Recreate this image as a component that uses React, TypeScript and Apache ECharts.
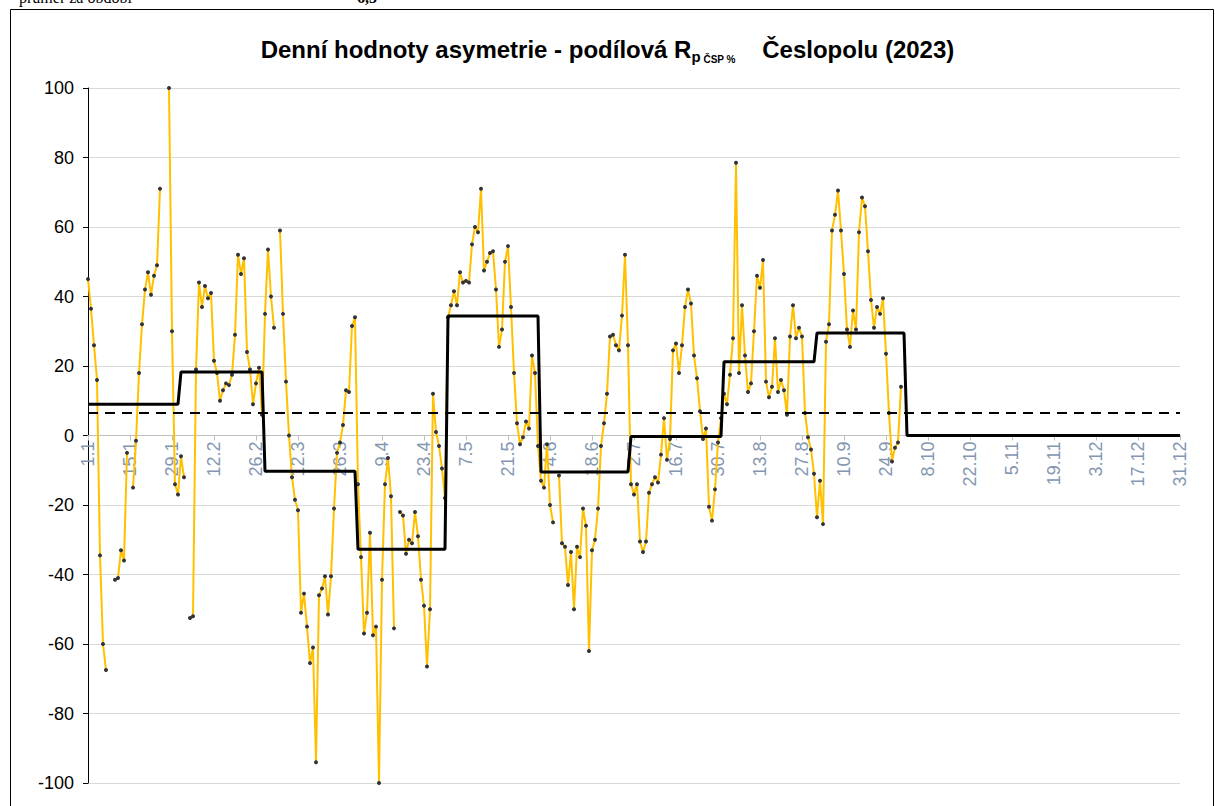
import React, { useEffect, useRef } from 'react';
import * as echarts from 'echarts';

const YEAR = 2023;
const daysInMonth = [31, 28, 31, 30, 31, 30, 31, 31, 30, 31, 30, 31];

// Daily values (null = missing day)
const jan = [45, 36.5, 26, 16, -34.5, -60, -67.5, null, null, -41.5, -41, -33, -36, -5, null, -15, -1.5, 18, 32, 42, 47, 40.5, 46, 49, 71, null, null, 100, 30, -14, -17];
const feb = [-6, -12, null, -52.5, -52, 19, 44, 37, 43, 39.5, 41, 21.5, 18, 10, 13, 15, 14.5, 17.5, 29, 52, 46.5, 51, 24, 19, 9, 15, 19.5, 6];
const mar = [35, 53.5, 40, 31, null, 59, 35, 15.5, 0, -12, -18.5, -21.5, -51, -45.5, -55, -65.5, -61, -94, -46, -44, -40.5, -51.5, -40.5, -21, -5, -2, 3, 13, 12.5, 31.5, 34];
const apr = [-14, -35, -57, -51, -28, -57.5, -55, -100, -41.5, -14, -6.5, -17.5, -55.5, null, -22, -23, -34, -30, -31, -22, -29, -41.5, -49, -66.5, -50, 12, 1, -3, -9.5, -18];
const may = [34, 37.5, 41.5, 37.5, 47, 44, 44.5, 44, 55, 60, 58.5, 71, 47.5, 50, 52.5, 53, 42, 25.5, 30.5, 50, 54.5, 37, 18, 3.5, -2.5, -0.5, 4, 2, 23, 18, -3];
const jun = [-13, -15, -2.5, -20, -25, null, -11.5, -31, -32, -43, -33.5, -50, -32, -35, -21, -26, -62, -33, -30, -21, -3, 3.5, 12, 28.5, 29, 26, 24.5, 34.5, 52, 26];
const jul = [-14, -17, -14, -30.5, -33.5, -30.5, -16.5, -14, -12, -13.5, -5.5, 5, -7, -1, 24.5, 26.5, 18, 26, 37, 42, 38, 23, 16.5, 7, -1, 2, -20.5, -24.5, -15.5, -2, 5];
const aug = [12, 9, 17.5, 28, 78.5, 18, 37.5, 23, 12.5, 15, 30, 46, 42.5, 50.5, 15.5, 11, 14, 28, 12.5, 16, 13, 6, 28.5, 37.5, 28, 31, 28.5, 6.5, -0.5, -4, -11];
const sep = [-23.5, -13, -25.5, 27, 32, 59, 63.5, 70.5, 59, 46.5, 30.5, 25.5, 36, 30.5, 58.5, 68.5, 66, 53, 39, 31, 37, 35, 39.5, 23.5, 6.5, -7.5, -3.5, -2, 14, null];
const oct: (number | null)[] = new Array(31).fill(null);
const nov: (number | null)[] = new Array(30).fill(null);
const dec: (number | null)[] = new Array(31).fill(null);

// Monthly averages (black step line) and period average (dashed line)
const monthlyMeans = [9, 18.3, -10.3, -32.7, 34.4, -10.5, -0.3, 21.2, 29.5, 0, 0, 0];
const periodMean = 6.5;
const periodMeanText = '6,5';

const Y_MIN = -100;
const Y_MAX = 100;
const Y_STEP = 20;
const LABEL_EVERY = 14;

const daily = [...jan, ...feb, ...mar, ...apr, ...may, ...jun, ...jul, ...aug, ...sep, ...oct, ...nov, ...dec];
const stepLine = monthlyMeans.flatMap((m, k) => new Array(daysInMonth[k]).fill(m));
const dayLabels = daily.map((_, i) => {
  const d = new Date(YEAR, 0, 1 + i);
  return `${d.getDate()}.${d.getMonth() + 1}`;
});

const FONT = "'Liberation Sans', Arial, sans-serif";
const GRID_TOP = 88;
const GRID_BOTTOM = 23;
const CHART_H = 806;
// distance from plot bottom to the zero line (x axis crosses the y axis at 0)
const plotH = CHART_H - GRID_TOP - GRID_BOTTOM;
const zeroOffset = plotH * (0 - Y_MIN) / (Y_MAX - Y_MIN);

export default function App() {
  const ref = useRef<HTMLDivElement>(null);
  useEffect(() => {
    const chart = echarts.init(ref.current!, undefined, { renderer: 'svg' });
    chart.setOption({
      animation: false,
      backgroundColor: '#fff',
      title: {
        left: 'center',
        top: 29,
        text: '{a|Denní hodnoty asymetrie - podílová R}{b|p}{c| ČSP %}{a|    Česlopolu (2023)}',
        textStyle: {
          rich: {
            a: { fontFamily: FONT, fontWeight: 'bold', fontSize: 24, color: '#000', lineHeight: 30, verticalAlign: 'middle' },
            b: { fontFamily: FONT, fontWeight: 'bold', fontSize: 15, color: '#000', lineHeight: 13, verticalAlign: 'bottom' },
            c: { fontFamily: FONT, fontWeight: 'bold', fontSize: 10, color: '#000', lineHeight: 10, verticalAlign: 'bottom' },
          },
        },
      },
      graphic: [
        { type: 'rect', shape: { x: 10.5, y: 9.5, width: 1203, height: 900 }, style: { fill: 'none', stroke: '#000', lineWidth: 1 }, silent: true },
        { type: 'text', x: 19, y: -3, style: { text: 'průměr za období', font: "16px 'Liberation Serif', 'Times New Roman', serif", fill: '#000', verticalAlign: 'middle' } },
        { type: 'text', x: 357, y: -3, style: { text: periodMeanText, font: "bold 16px 'Liberation Serif', 'Times New Roman', serif", fill: '#000', verticalAlign: 'middle' } },
      ],
      grid: { left: 88, right: 35, top: GRID_TOP, bottom: GRID_BOTTOM, containLabel: false, outerBoundsMode: 'none' },
      xAxis: {
        type: 'category',
        data: dayLabels,
        boundaryGap: false,
        position: 'bottom',
        offset: -zeroOffset,
        axisLine: { onZero: false, lineStyle: { color: '#bfbfbf', width: 1 } },
        axisTick: { show: true, interval: LABEL_EVERY - 1, length: 5, lineStyle: { color: '#bfbfbf' } },
        axisLabel: { interval: LABEL_EVERY - 1, rotate: 90, margin: 6, color: '#8496b0', fontSize: 18, fontFamily: FONT },
        splitLine: { show: false },
        z: 1,
      },
      yAxis: {
        type: 'value',
        min: Y_MIN,
        max: Y_MAX,
        interval: Y_STEP,
        axisLine: { show: true, lineStyle: { color: '#000', width: 1 } },
        axisTick: { show: true, inside: false, length: 5, lineStyle: { color: '#000' } },
        axisLabel: { color: '#000', fontSize: 18, fontFamily: FONT, margin: 14 },
        splitLine: { show: true, lineStyle: { color: '#d9d9d9', width: 1 } },
      },
      series: [
        {
          type: 'line',
          data: daily,
          connectNulls: false,
          symbol: 'circle',
          symbolSize: 4,
          showSymbol: true,
          showAllSymbol: true,
          lineStyle: { color: '#ffc000', width: 2 },
          itemStyle: { color: '#333333', borderWidth: 0 },
          z: 2,
        },
        {
          type: 'line',
          data: stepLine,
          showSymbol: false,
          symbol: 'none',
          lineStyle: { color: '#000', width: 3 },
          z: 3,
          markLine: {
            silent: true,
            symbol: 'none',
            label: { show: false },
            lineStyle: { color: '#000', width: 2, type: [10, 7] },
            data: [{ yAxis: periodMean }],
          },
        },
      ],
    });
    return () => chart.dispose();
  }, []);
  return <div ref={ref} style={{ position: 'absolute', left: 0, top: 0, width: 1215, height: 806, background: '#fff' }} />;
}
